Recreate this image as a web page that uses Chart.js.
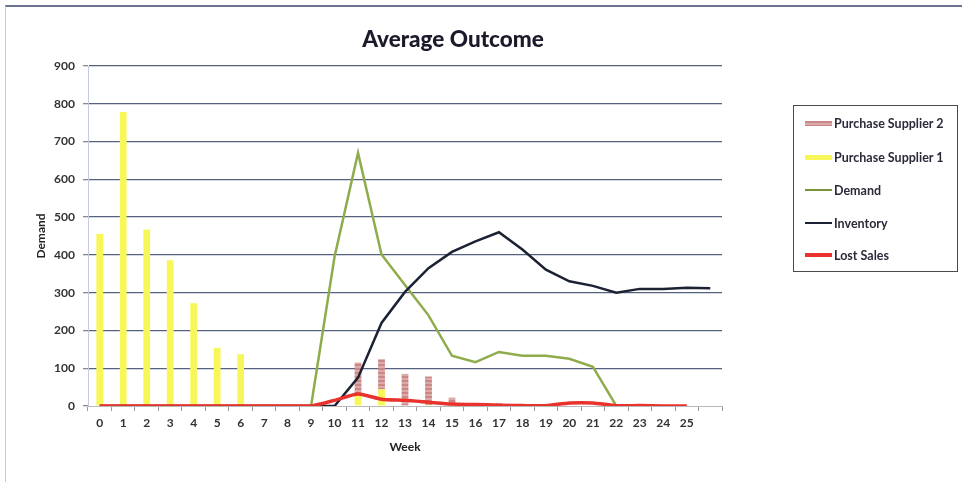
<!DOCTYPE html>
<html>
<head>
<meta charset="utf-8">
<script src="https://cdn.jsdelivr.net/npm/chart.js@4.4.1/dist/chart.umd.min.js"></script>
<style>
  html, body { margin: 0; padding: 0; background: #fff; }
  body { width: 962px; height: 482px; position: relative; overflow: hidden; font-family: Lato, "Open Sans", sans-serif; }
  .frame { position: absolute; left: 5px; top: 5px; width: 1000px; height: 520px; border-top: 2px solid #6b7591; border-left: 1px solid #c8c8c8; }
  #chart { position: absolute; left: 0; top: 0; }
  .title { position: absolute; top: 25px; left: 0; width: 906px; text-align: center; font: 900 22.5px Lato; color: #1a1a2a; }
  .legend { position: absolute; left: 793px; top: 105px; width: 165px; height: 167px; border: 1px solid #4a4a4a; box-sizing: border-box; }
  .legend .item { position: absolute; left: 11px; height: 16px; display: flex; align-items: center; font: bold 12.5px Lato; color: #2a2a3a; white-space: nowrap; }
  .legend .swatch { width: 27px; margin-right: 2px; }
</style>
</head>
<body>
<div class="frame"></div>
<canvas id="chart" width="962" height="482"></canvas>
<div class="title">Average Outcome</div>
<div class="legend" id="legend"></div>
<script>
// weeks 0..25 plus one unlabeled slot at the end
const weeks = ["0", "1", "2", "3", "4", "5", "6", "7", "8", "9", "10", "11", "12", "13",
  "14", "15", "16", "17", "18", "19", "20", "21", "22", "23", "24", "25", ""];
const supplier1 = [455, 778, 467, 386, 272, 154, 137, 0, 0, 0, 0, 30, 44, 0, 3, 0, 0, 0, 0, 0, 0, 0, 0, 0, 0, 0, 0];
const supplier2 = [0, 0, 0, 0, 0, 0, 0, 0, 0, 0, 0, 85, 80, 85, 75, 22, 0, 8, 0, 0, 0, 0, 0, 0, 0, 0, 0];
const demand = [0, 0, 0, 0, 0, 0, 0, 0, 0, 0, 395, 670, 401, 320, 240, 133, 116, 143, 133, 133, 125, 104, 0,
  null, null, null, null];
const inventory = [0, 0, 0, 0, 0, 0, 0, 0, 0, 0, 0, 75, 220, 302, 365, 408, 436, 460, 414, 361, 330, 318, 300,
  310, 310, 313, 312];
const lostSales = [0, 0, 0, 0, 0, 0, 0, 0, 0, 0, 15, 32, 18, 15, 10, 5, 4, 2, 1, 1, 8, 8, 1, 1, 0, 0, null];
const yMin = 0;
const yMax = 900;
const yStep = 100;

const ctx = document.getElementById("chart").getContext("2d");

// striped fill for supplier 2 bars
const makeStripes = () => {
  const c = document.createElement("canvas");
  c.width = 4;
  c.height = 4;
  const p = c.getContext("2d");
  p.fillStyle = "#dcaaa8";
  p.fillRect(0, 0, 4, 4);
  p.fillStyle = "#c98785";
  p.fillRect(0, 0, 4, 2);
  return ctx.createPattern(c, "repeat");
};

const datasets = [
  {
    type: "line",
    label: "Lost Sales",
    data: lostSales,
    borderColor: "#e8322b",
    borderWidth: 3.5,
    pointRadius: 0,
    tension: 0.2,
    stack: "lost",
    order: 0,
  },
  {
    type: "line",
    label: "Inventory",
    data: inventory,
    borderColor: "#1c2233",
    borderWidth: 2.5,
    pointRadius: 0,
    stack: "inv",
    order: 1,
  },
  {
    type: "line",
    label: "Demand",
    data: demand,
    borderColor: "#8fac4c",
    borderWidth: 2.5,
    pointRadius: 0,
    stack: "demand",
    order: 2,
  },
  {
    type: "bar",
    label: "Purchase Supplier 1",
    data: supplier1,
    backgroundColor: "#f8f75a",
    borderWidth: 0,
    barPercentage: 0.29,
    categoryPercentage: 1,
    stack: "bars",
    order: 4,
  },
  {
    type: "bar",
    label: "Purchase Supplier 2",
    data: supplier2,
    backgroundColor: makeStripes(),
    borderWidth: 0,
    barPercentage: 0.29,
    categoryPercentage: 1,
    stack: "bars",
    order: 5,
  },
];

const tickFont = { family: "Lato", size: 12, weight: "bold" };

new Chart(ctx, {
  data: { labels: weeks, datasets: datasets },
  options: {
    responsive: false,
    animation: false,
    layout: { padding: { left: 0, right: 240, top: 66, bottom: 0 } },
    plugins: { legend: { display: false }, tooltip: { enabled: false }, title: { display: false } },
    scales: {
      x: {
        offset: true,
        grid: { offset: true, drawOnChartArea: false, drawTicks: true, tickLength: 5, color: "#9a9a9a" },
        border: { color: "#b8b8b8", width: 1 },
        ticks: { font: tickFont, color: "#333", padding: 5, maxRotation: 0, autoSkip: false },
        title: { display: true, text: "Week", font: tickFont, color: "#222", padding: { top: 0, bottom: 28 } },
        afterFit: (scale) => {
          scale.height = 76;
        },
      },
      y: {
        stacked: true,
        min: yMin,
        max: yMax,
        ticks: { stepSize: yStep, font: tickFont, color: "#333", padding: 8 },
        grid: {
          color: (c) => (c.tick && c.tick.value === 0 ? "rgba(0,0,0,0)" : "#55627f"),
          lineWidth: 1.3,
          tickLength: 5,
          tickColor: "#8a8a8a",
        },
        border: { color: "#c5cbe6", width: 1 },
        title: { display: true, text: "Demand", font: tickFont, color: "#222", padding: { top: 34 } },
        afterFit: (scale) => {
          scale.width = 88;
        },
      },
    },
  },
});

// legend box, same order as the original
const legendItems = [
  { label: "Purchase Supplier 2", style: "height:5px;background:repeating-linear-gradient(#c98785 0 2px,#dcaaa8 2px 4px)" },
  { label: "Purchase Supplier 1", style: "height:5px;background:#f8f75a" },
  { label: "Demand", style: "height:2.5px;background:#77933c" },
  { label: "Inventory", style: "height:2.5px;background:#1c2233" },
  { label: "Lost Sales", style: "height:3.5px;background:#e8322b" },
];
const legendY = [18, 52, 85, 118, 150];
const legend = document.getElementById("legend");
legendItems.forEach((item, i) => {
  const row = document.createElement("div");
  row.className = "item";
  row.style.top = legendY[i] - 9 + "px";
  row.innerHTML = `<span class="swatch" style="${item.style}"></span><span>${item.label}</span>`;
  legend.appendChild(row);
});
</script>
</body>
</html>
